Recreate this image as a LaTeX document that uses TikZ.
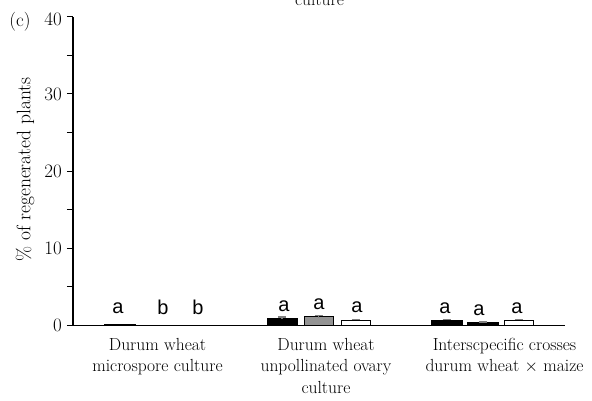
\documentclass[tikz,border=0pt]{standalone}
\usepackage{fontspec}
\newfontfamily\letterfont{Liberation Sans}

\begin{document}
\begin{tikzpicture}[x=1pt, y=7.72pt,
  catlabel/.style={align=center, anchor=north, inner sep=0pt, font=\fontsize{17.5}{21.5}\selectfont},
  ticklabel/.style={anchor=east, inner sep=0pt, font=\fontsize{19}{21}\selectfont},
  siglabel/.style={anchor=base, inner sep=0pt, font=\letterfont\fontsize{20}{22}\selectfont},
  blackbar/.style={draw=black, fill=black, line width=1pt},
  graybar/.style={draw=black, fill=gray!85, line width=1pt},
  whitebar/.style={draw=black, fill=white, line width=1pt},
  errbar/.style={gray, line width=1.2pt}]
\useasboundingbox (-73pt,-74.5pt) rectangle (519pt,325.5pt);
% axes
\draw[line width=1.8pt] (0,0) -- (0,40);
\draw[line width=1.3pt] (0,0) -- (492,0);
\draw[line width=1pt] (-6,0) -- (0,0);
\draw[line width=1pt] (-6,5) -- (0,5);
\draw[line width=1pt] (-6,10) -- (0,10);
\draw[line width=1pt] (-6,15) -- (0,15);
\draw[line width=1pt] (-6,20) -- (0,20);
\draw[line width=1pt] (-6,25) -- (0,25);
\draw[line width=1pt] (-6,30) -- (0,30);
\draw[line width=1pt] (-6,35) -- (0,35);
\draw[line width=1pt] (-6,40) -- (0,40);
\node[ticklabel] (t0) at (-11,0) {0};
\node[ticklabel] (t10) at (-11,10) {10};
\node[ticklabel] (t20) at (-11,20) {20};
\node[ticklabel] (t30) at (-11,30) {30};
\node[ticklabel] (t40) at (-11,39.6) {40};
\node[ticklabel, anchor=center] (panel) at (-53,39.3) {(c)};
\node[ticklabel, anchor=center, rotate=90, font=\fontsize{19.5}{21}\selectfont] (ylabel) at (-48,20.2) {\% of regenerated plants};
\node[catlabel, anchor=base] (toplabel) at (246.5,41.4) {culture};
% bars
\draw[blackbar] (32,0) rectangle (62,0.15);
\draw[blackbar] (194,0) rectangle (224,0.97);
\draw[graybar] (231,0) rectangle (260,1.17);
\draw[whitebar] (268,0) rectangle (297,0.71);
\draw[blackbar] (358,0) rectangle (389,0.71);
\draw[blackbar] (394,0) rectangle (425,0.39);
\draw[whitebar] (431,0) rectangle (460,0.71);
% error bars
\draw[errbar] (205,1.1) -- (213,1.1) (209,0.85) -- (209,1.1);
\draw[errbar] (241.5,1.32) -- (249.5,1.32) (245.5,1.02) -- (245.5,1.32);
\draw[errbar] (278.5,0.76) -- (286.5,0.76);
\draw[errbar] (369.5,0.78) -- (377.5,0.78);
\draw[errbar] (405.5,0.46) -- (413.5,0.46);
\draw[errbar] (441.5,0.78) -- (449.5,0.78);
% letters
\node[siglabel] (s1a) at (45,1.55) {a};
\node[siglabel] (s1b) at (90,1.4) {b};
\node[siglabel] (s1c) at (125,1.4) {b};
\node[siglabel] (s2a) at (211,1.85) {a};
\node[siglabel] (s2b) at (246,2.05) {a};
\node[siglabel] (s2c) at (284,1.65) {a};
\node[siglabel] (s3a) at (372,1.6) {a};
\node[siglabel] (s3b) at (406,1.35) {a};
\node[siglabel] (s3c) at (444,1.6) {a};
% categories
\node[catlabel] (g1) at (84.5,-1.62) {Durum wheat\\microspore culture};
\node[catlabel] (g2) at (253,-1.62) {Durum wheat\\unpollinated ovary\\culture};
\node[catlabel] (g3) at (431.5,-1.62) {Interscpecific crosses\\durum wheat $\times$ maize};
\end{tikzpicture}
\end{document}
